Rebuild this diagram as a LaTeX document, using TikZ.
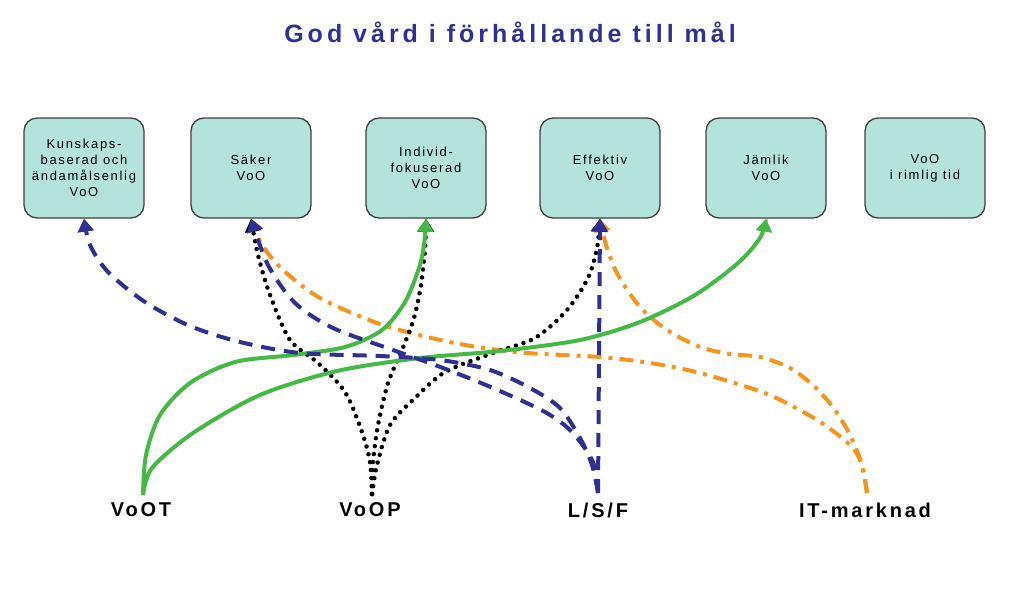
\documentclass[tikz,border=0pt]{standalone}
\usepackage{fontspec}
\setmainfont{Liberation Sans}
\newfontfamily\headfont[LetterSpace=16]{Liberation Sans}
\newfontfamily\goalfont[LetterSpace=13]{Liberation Sans}
\newfontfamily\srcfont[LetterSpace=14]{Liberation Sans}
\usepackage{tikz}
\usetikzlibrary{arrows.meta,calc}
\definecolor{cHead} {HTML}{2E3192}
\definecolor{cBox}  {HTML}{B4E3DC}
\definecolor{cBlue} {HTML}{2E3192}
\definecolor{cGreen}{HTML}{44B944}
\definecolor{cOrng}{HTML}{F7941D}
\tikzset{
  goal/.style  ={draw=black!75,fill=cBox,rounded corners=13pt,line width=1.3pt,
                 minimum width=120pt,minimum height=100pt,align=center,inner sep=2pt,
                 font=\goalfont\fontsize{13}{16}\selectfont},
  srclbl/.style={font=\srcfont\bfseries\fontsize{20}{24}\selectfont},
  tip/.style   ={-{Triangle[length=13pt,width=16pt]}},
  lnT/.style   ={tip,draw=cGreen,line width=4pt},
  lnP/.style   ={tip,draw=black,line width=4.5pt,line cap=round,dash pattern=on 0pt off 8pt},
  lnL/.style   ={tip,draw=cBlue,line width=4pt,dash pattern=on 14pt off 9pt},
  lnM/.style   ={tip,draw=cOrng,line width=4pt,dash pattern=on 14pt off 7pt on 4pt off 7pt},
}

\begin{document}
\begin{tikzpicture}[x=1pt, y=1pt]
\useasboundingbox (0,0) rectangle (1024,-605);

% ===== title ===============================================================
\node[font=\headfont\bfseries\fontsize{25}{30}\selectfont,text=cHead] (head) at (510,-32)
  {God vård i förhållande till mål};

% ===== goals ===============================================================
\node[goal] (kun) at (84,-168)  {Kunskaps-\\baserad och\\ändamålsenlig\\VoO};
\node[goal] (sak) at (251,-168) {Säker\\VoO};
\node[goal] (ind) at (426,-168) {Individ-\\fokuserad\\VoO};
\node[goal] (eff) at (600,-168) {Effektiv\\VoO};
\node[goal] (jam) at (766,-168) {Jämlik\\VoO};
\node[goal] (rim) at (925,-168) {VoO\\i rimlig tid};

% ===== sources =============================================================
\node[srclbl] (voot) at (141,-510) {VoOT};
\node[srclbl] (voop) at (370,-510) {VoOP};
\node[srclbl] (lsf)  at (598,-510) {L/S/F};
\node[srclbl] (itm)  at (865,-510) {IT-marknad};
\coordinate (voot0) at (143,-495);
\coordinate (voop0) at (372,-494);
\coordinate (lsf0)  at (598,-493);
\coordinate (itm0)  at (867,-493);

% IT-marknad
\draw[lnM] plot[smooth] coordinates {(itm0) (862,-465) (850,-445) (817,-420) (767,-394)
  (700,-373) (650,-363) (600,-357) (527,-353) (477,-347) (427,-337) (377,-323)
  (320,-298) (283,-270) (262,-245) (sak.south)};
\draw[lnM] plot[smooth] coordinates {(itm0) (861,-462) (850,-435) (835,-410) (815,-387)
  (790,-368) (760,-357) (730,-354) (700,-347) (667,-330) (640,-307) (618,-275)
  (606,-245) (eff.south)};

% VoOP
\draw[lnP] plot[smooth] coordinates {(voop0) (370,-462) (362,-432) (345,-392) (318,-363)
  (290,-340) (270,-295) (258,-255) (sak.south)};
\draw[lnP] plot[smooth] coordinates {(voop0) (373,-462) (378,-425) (388,-383) (402,-350)
  (414,-318) (421,-285) (425,-250) (ind.south)};
\draw[lnP] plot[smooth] coordinates {(voop0) (377,-465) (390,-425) (415,-398) (445,-372)
  (493,-353) (535,-338) (567,-310) (588,-278) (597,-248) (eff.south)};

% VoOT
\draw[lnT] plot[smooth] coordinates {(voot0) (146,-455) (160,-415) (190,-383) (235,-362)
  (293,-355) (345,-347) (382,-330) (405,-302) (419,-268) (424,-245) (ind.south)};
\draw[lnT] plot[smooth] coordinates {(voot0) (152,-468) (193,-433) (260,-395) (337,-371)
  (420,-358) (500,-351) (580,-340) (640,-322) (695,-295) (738,-263) (760,-238) (jam.south)};

% L/S/F
\draw[lnL] plot[smooth] coordinates {(lsf0) (592,-465) (580,-438) (560,-408) (530,-388)
  (490,-370) (440,-360) (380,-356) (300,-353) (240,-342) (190,-326) (145,-302)
  (108,-272) (90,-245) (kun.south)};
\draw[lnL] plot[smooth] coordinates {(lsf0) (593,-462) (572,-432) (545,-412) (493,-388)
  (443,-368) (393,-350) (333,-328) (295,-303) (268,-265) (sak.south)};
\draw[lnL] (lsf0) -- (eff.south);
\end{tikzpicture}
\end{document}
